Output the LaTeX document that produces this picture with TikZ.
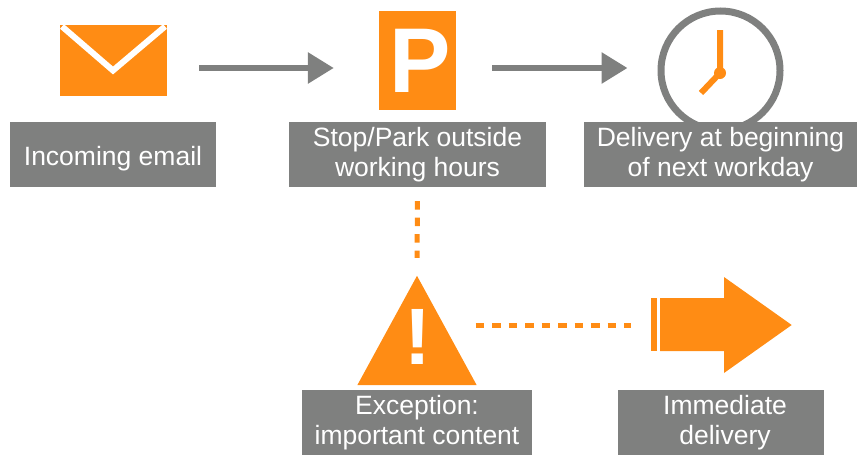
\documentclass[tikz,border=0pt]{standalone}
\usepackage{fontspec}
\setmainfont{Liberation Sans}
\definecolor{flowOrange}{HTML}{FF8C14}
\definecolor{flowGray}{HTML}{7F807F}
\usetikzlibrary{arrows.meta}
\tikzset{
    labelBox/.style={fill=flowGray, text=white, inner sep=0, align=center, font=\fontsize{26.5}{30}\selectfont,
        execute at begin node={\rule{0pt}{27pt}}},
    iconBox/.style={inner sep=0},
    flowArrow/.style={draw=flowGray, line width=6, -{Triangle[length=26, width=30]}},
    dottedLink/.style={draw=flowOrange, line width=5, dash pattern=on 8.5 off 8},
}

\begin{document}
\begin{tikzpicture}[yscale=-1, x=1pt, y=1pt]
    \useasboundingbox (0, 0) rectangle (865, 455);

    % Define the positions of the icons
    \coordinate (mailPos) at (113.5, 60.5);
    \coordinate (parkPos) at (417.5, 60.5);
    \coordinate (clockPos) at (720.5, 70.5);
    \coordinate (warnPos) at (417, 330.5);
    \coordinate (rushPos) at (721, 325);

    % Define the positions of the labels
    \coordinate (mailLabelPos) at (113, 154.5);
    \coordinate (parkLabelPos) at (417.5, 154.5);
    \coordinate (clockLabelPos) at (720.5, 154.5);
    \coordinate (warnLabelPos) at (417, 422.5);
    \coordinate (rushLabelPos) at (721, 422.5);

    % Draw the icons
    \node[iconBox, fill=flowOrange, minimum width=107, minimum height=71] (mailIcon) at (mailPos) {};
    \begin{scope}
        \clip (mailIcon.north west) rectangle (mailIcon.south east);
        \draw[white, line width=6, miter limit=10] (62, 26.5) -- (113, 70.5) -- (165, 26.5);
    \end{scope}
    \node[iconBox, fill=flowOrange, text=white, minimum width=77, minimum height=99, font=\fontsize{92}{92}\bfseries] (parkIcon) at (parkPos) {\hspace*{5pt}P};
    \node[iconBox, draw=flowGray, line width=7, circle, minimum size=119] (clockIcon) at (clockPos) {};
    \draw[flowOrange, line width=6] (720, 30) -- (720, 73) -- (701, 93);
    \fill[flowOrange] (720, 73) circle (6);
    \node[iconBox, minimum width=119, minimum height=109] (warnIcon) at (warnPos) {};
    \fill[flowOrange] (warnIcon.south west) -- (warnIcon.north) -- (warnIcon.south east) -- cycle;
    \node[text=white, inner sep=0, font=\fontsize{80}{80}\bfseries] (warnMark) at (417.5, 337) {!};
    \node[iconBox, minimum width=141, minimum height=96] (rushIcon) at (rushPos) {};
    \fill[flowOrange] (651, 298) rectangle (657, 351);
    \fill[flowOrange] (660, 298) -- (724, 298) -- (724, 277) -- (rushIcon.east) -- (724, 373) -- (724, 351) -- (660, 351) -- cycle;

    % Draw the labels
    \node[labelBox, minimum width=206, minimum height=65] (mailLabel) at (mailLabelPos) {Incoming email};
    \node[labelBox, minimum width=257, minimum height=65] (parkLabel) at (parkLabelPos) {Stop/Park outside\\working hours};
    \node[labelBox, minimum width=273, minimum height=65] (clockLabel) at (clockLabelPos) {Delivery at beginning\\of next workday};
    \node[labelBox, minimum width=230, minimum height=65] (warnLabel) at (warnLabelPos) {Exception:\\important content};
    \node[labelBox, minimum width=206, minimum height=65] (rushLabel) at (rushLabelPos) {\hspace*{8pt}Immediate\\\hspace*{8pt}delivery};

    % Draw the lines
    \draw[flowArrow, shorten <=32, shorten >=45] ([yshift=7.5]mailIcon.east) -- ([yshift=7.5]parkIcon.west);
    \draw[flowArrow, shorten <=36, shorten >=30] ([yshift=7.5]parkIcon.east) -- ([yshift=-2.5]clockIcon.west);
    \draw[dottedLink, shorten <=14, shorten >=18] (parkLabel.south) -- (warnIcon.north);
    \draw[dottedLink, shorten <=-1, shorten >=19] ([yshift=-5.5]warnIcon.east) -- (rushIcon.west);
\end{tikzpicture}
\end{document}
